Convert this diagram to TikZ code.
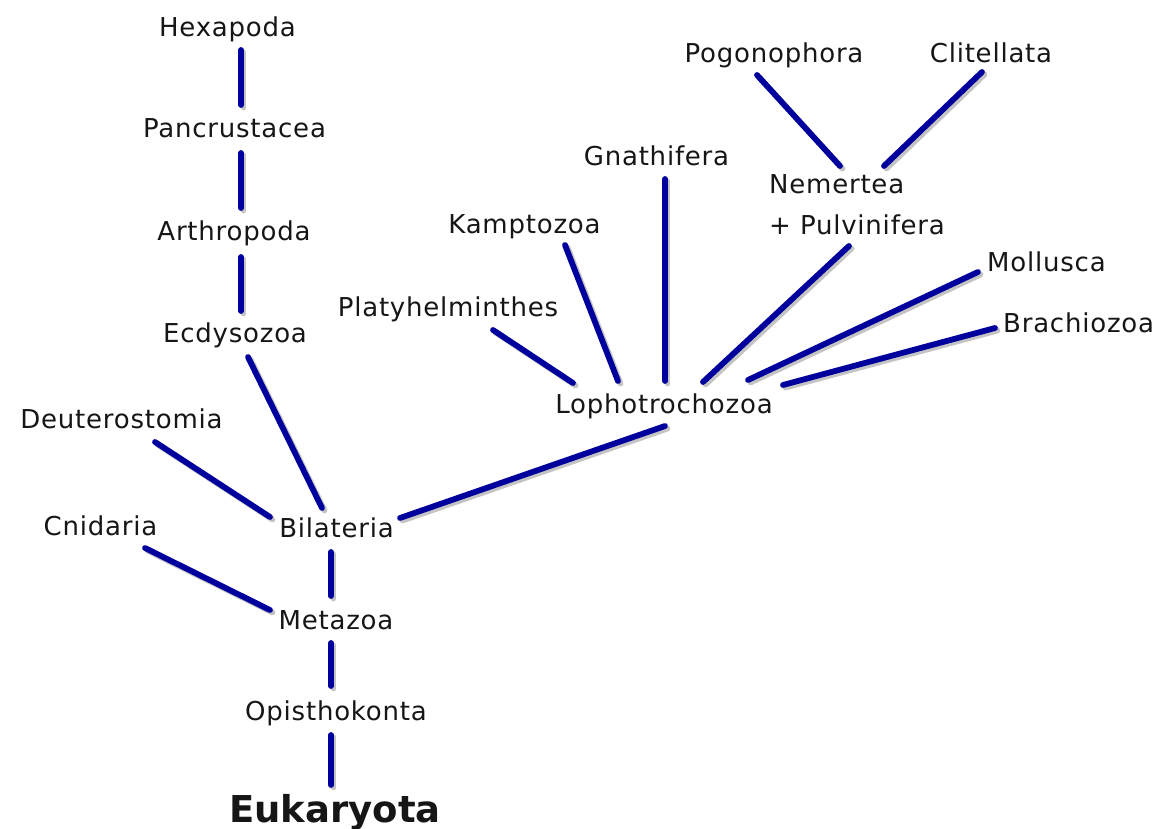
\documentclass[tikz,border=0pt]{standalone}
\usepackage{fontspec}
\setmainfont{DejaVu Sans}[LetterSpace=3]
\newfontfamily\eukfont{DejaVu Sans}
\definecolor{txt}{HTML}{161616}
\definecolor{branchblue}{HTML}{00009C}
\definecolor{shadowgray}{HTML}{C4C4C4}
\begin{document}
\begin{tikzpicture}[x=1pt,y=-1pt,
  lbl/.style={inner sep=0pt, text=txt, font=\fontsize{26}{30}\selectfont},
  branch/.style={draw=branchblue, line width=5.8pt, line cap=round,
    preaction={draw=shadowgray, line width=5.8pt, line cap=round,
      transform canvas={xshift=2.5pt,yshift=-2.5pt}}}]
\useasboundingbox (0,0) rectangle (1163,829);
\fill[white] (0,0) rectangle (1163,829);
% nodes
\node[lbl, anchor=base] (hexa) at (227.5,37) {Hexapoda};
\node[lbl, anchor=base] (pancr) at (234.5,138) {Pancrustacea};
\node[lbl, anchor=base] (arthro) at (234,241) {Arthropoda};
\node[lbl, anchor=base] (ecdy) at (235,342) {Ecdysozoa};
\node[lbl, anchor=base] (deut) at (121.5,428) {Deuterostomia};
\node[lbl, anchor=base] (cnid) at (100.5,535) {Cnidaria};
\node[lbl, anchor=base] (bilat) at (336.5,537) {Bilateria};
\node[lbl, anchor=base] (meta) at (336,629) {Metazoa};
\node[lbl, anchor=base] (opis) at (336,720) {Opisthokonta};
\node[inner sep=0pt, text=txt, anchor=base, font=\eukfont\bfseries\fontsize{37}{40}\selectfont] (euk) at (335,822) {Eukaryota};
\node[lbl, anchor=base] (platy) at (448,317) {Platyhelminthes};
\node[lbl, anchor=base] (kampto) at (524.5,234) {Kamptozoa};
\node[lbl, anchor=base] (gnath) at (656.5,166) {Gnathifera};
\node[lbl, anchor=base west] (nem) at (769,194) {Nemertea};
\node[lbl, anchor=base west] (nemb) at (769,235) {+ Pulvinifera};
\node[lbl, anchor=base] (pogo) at (774,63) {Pogonophora};
\node[lbl, anchor=base] (clit) at (991,63) {Clitellata};
\node[lbl, anchor=base west] (moll) at (987,272) {Mollusca};
\node[lbl, anchor=base west] (brach) at (1003,333) {Brachiozoa};
\node[lbl, anchor=base] (lopho) at (664,413) {Lophotrochozoa};
% connectors
\draw[branch] ([shift={(13.5,13)}]hexa.base) -- ([shift={(6.5,-33)}]pancr.base);
\draw[branch] ([shift={(6.5,15)}]pancr.base) -- ([shift={(7,-33)}]arthro.base);
\draw[branch] ([shift={(7,16)}]arthro.base) -- ([shift={(6,-31)}]ecdy.base);
\draw[branch] ([shift={(13,15)}]ecdy.base) -- ([shift={(-14.5,-29)}]bilat.base);
\draw[branch] ([shift={(33.5,14)}]deut.base) -- ([shift={(-66.5,-20)}]bilat.base);
\draw[branch] ([shift={(63.5,-19)}]bilat.base) -- ([shift={(1,13)}]lopho.base);
\draw[branch] ([shift={(-5.5,15)}]bilat.base) -- ([shift={(-5,-33)}]meta.base);
\draw[branch] ([shift={(44.5,13)}]cnid.base) -- ([shift={(-66,-19)}]meta.base);
\draw[branch] ([shift={(-5,14)}]meta.base) -- ([shift={(-5,-34)}]opis.base);
\draw[branch] ([shift={(-5,15)}]opis.base) -- ([shift={(-4,-37)}]euk.base);
\draw[branch] ([shift={(45,13)}]platy.base) -- ([shift={(-91,-30)}]lopho.base);
\draw[branch] ([shift={(40.5,11)}]kampto.base) -- ([shift={(-46,-32)}]lopho.base);
\draw[branch] ([shift={(8.5,13)}]gnath.base) -- ([shift={(1,-32)}]lopho.base);
\draw[branch] ([shift={(80,11)}]nemb.base west) -- ([shift={(39,-31)}]lopho.base);
\draw[branch] ([shift={(-9,0)}]moll.base west) -- ([shift={(84,-33)}]lopho.base);
\draw[branch] ([shift={(-8,-5)}]brach.base west) -- ([shift={(119,-28)}]lopho.base);
\draw[branch] ([shift={(-17,12)}]pogo.base) -- ([shift={(71,-28)}]nem.base west);
\draw[branch] ([shift={(-9,9)}]clit.base) -- ([shift={(115,-28)}]nem.base west);
\end{tikzpicture}
\end{document}
